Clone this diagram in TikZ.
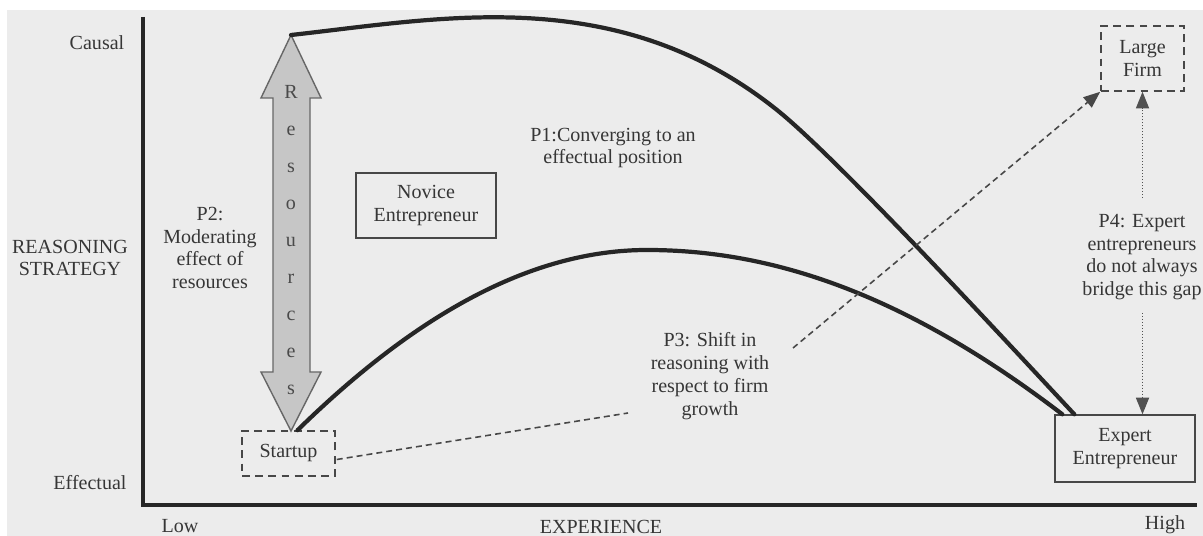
\documentclass[tikz,border=0pt]{standalone}
\usepackage{fontspec}
\setmainfont{Liberation Serif}
\usetikzlibrary{arrows.meta,calc}
\definecolor{paper}{HTML}{ECECEC}
\definecolor{ink}{HTML}{363636}
\definecolor{stroke}{HTML}{262626}
\definecolor{resfill}{HTML}{C6C6C6}
\begin{document}
\begin{tikzpicture}[x=0.02cm,y=-0.02cm,
  every node/.style={text=ink,font=\fontsize{11.4}{13}\selectfont},
  txt/.style={align=center,inner sep=1pt},
  boxed/.style={draw=stroke!85,line width=0.8pt,align=center,inner sep=0pt},
  dashbox/.style={draw=stroke!85,line width=0.9pt,dash pattern=on 4.5pt off 3pt,align=center,inner sep=0pt},
  axis/.style={draw=stroke,line width=2.2pt,line join=miter},
  trend/.style={draw=stroke,line width=2.4pt,line cap=round},
  link/.style={draw=stroke!85,line width=0.9pt,dash pattern=on 3.4pt off 2.3pt},
  gapline/.style={draw=stroke!80,line width=0.7pt,densely dotted},
  head/.style={-{Triangle[width=7.5pt,length=9.5pt]}},
  letter/.style={anchor=base,inner sep=0pt,text=ink!90}
]
% page and paper
\fill[white] (0,0) rectangle (1203,536);
\fill[paper] (7,10) rectangle (1203,536);
\useasboundingbox (0,0) rectangle (1203,536);

% axes
\coordinate (ytop) at (143,17);
\coordinate (origin) at (143,505);
\coordinate (xend) at (1197,505);
\draw[axis] (ytop) -- (origin) -- (xend);

% axis labels
\node[txt] (causal) at (97,43) {Causal};
\node[txt] (effectual) at (90,483) {Effectual};
\node[txt] (reasoning) at (70,258) {REASONING\\STRATEGY};
\node[txt] (low) at (180,526) {Low};
\node[txt] (experience) at (601,527) {EXPERIENCE};
\node[txt] (high) at (1165,525) {High};

% resources double arrow
\coordinate (restop) at (291,35);
\coordinate (resbot) at (291,431);
\filldraw[fill=resfill,draw=stroke!70,line width=0.8pt,line join=miter]
  (restop) -- (321,98) -- (310,98) -- (310,372) -- (321,372) -- (resbot)
  -- (261,372) -- (273,372) -- (273,98) -- (261,98) -- cycle;
\foreach \l [count=\i] in {R,e,s,o,u,r,c,e,s}
  \node[letter] (res\i) at (291,{99+37*(\i-1)}) {\l};

% boxes
\node[dashbox,minimum width=1.86cm,minimum height=0.9cm] (startup) at (288.5,453.5) {Startup};
\node[dashbox,minimum width=1.66cm,minimum height=1.3cm] (large) at (1142.5,58.5) {Large\\Firm};
\node[boxed,minimum width=2.8cm,minimum height=1.3cm] (novice) at (426,205.5) {Novice\\Entrepreneur};
\node[boxed,minimum width=2.8cm,minimum height=1.34cm] (expert) at (1125,448.5) {Expert\\Entrepreneur};

% propositions
\node[txt] (p1) at (613,148) {P1:Converging to an\\effectual position};
\node[txt] (p2) at (210,248) {P2:\\Moderating\\effect of\\resources};
\node[txt] (p3) at (710,376) {P3: Shift in\\reasoning with\\respect to firm\\growth};
\node[txt] (p4) at (1142,257) {P4: Expert\\entrepreneurs\\do not always\\bridge this gap};

% reasoning trajectories
\coordinate (uend) at ($(expert.north west)+(20,0)$);
\coordinate (lstart) at ($(startup.north)+(9,0)$);
\coordinate (lend) at ($(expert.north west)+(8,0)$);
\draw[trend] (restop) .. controls (441,18.5) and (617,-18) .. (777,110)
  .. controls (837,158) and (1005,340) .. (uend);
\draw[trend] (lstart) .. controls (398,332) and (517,250) .. (647,250)
  .. controls (767,250) and (900,290) .. (lend);

% firm growth shift (P3)
\coordinate (p3in) at (628,413);
\coordinate (p3out) at (793,348);
\draw[link] ($(startup.east)+(1,6)$) -- (p3in);
\draw[link,head] (p3out) -- (large.south west);

% gap between expert and large firm (P4)
\coordinate (p4up) at (1142.5,198);
\coordinate (p4down) at (1142.5,313);
\draw[gapline,head] (p4up) -- (large.south);
\draw[gapline,head] (p4down) -- (large.south |- expert.north);
\end{tikzpicture}
\end{document}
